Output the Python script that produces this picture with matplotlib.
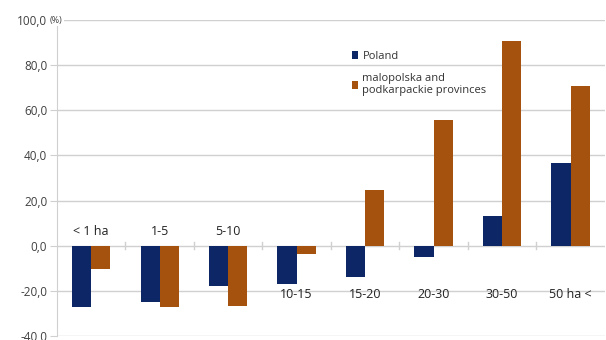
import numpy as np
import matplotlib
matplotlib.use("Agg")
from matplotlib import pyplot as plt

# farm size groups and change in number of farms (%)
categories = ["< 1 ha", "1-5", "5-10", "10-15", "15-20", "20-30", "30-50", "50 ha <"]
poland = [-27.0, -25.0, -17.7, -16.8, -13.7, -4.9, 13.3, 36.7]
malopolska = [-10.2, -27.4, -26.8, -3.5, 24.8, 55.8, 90.7, 70.8]
yticks = [-40, -20, 0, 20, 40, 60, 80, 100]

navy = "#0d2766"
brown = "#a5520f"
grid_col = "#d0d0d0"
text_col = "#404040"

plt.rcParams["font.family"] = ["Open Sans", "DejaVu Sans"]

fig = plt.figure(figsize=(6.06, 3.4), dpi=100)
ax = fig.add_axes([0.094, 0.012, 0.904, 0.929])

x = np.arange(len(categories))
w = 0.28
ax.bar(x - w / 2, poland, w, color=navy, label="Poland", zorder=3)
ax.bar(x + w / 2, malopolska, w, color=brown,
       label="malopolska and\npodkarpackie provinces", zorder=3)

ax.set_xlim(-0.5, len(categories) - 0.5)
ax.set_ylim(-40, 100)
ax.set_yticks(yticks)
ax.set_yticklabels([f"{v:.1f}".replace(".", ",") for v in yticks],
                   fontsize=8.5, color=text_col)
ax.set_xticks([])
ax.grid(axis="y", color=grid_col, linewidth=1, zorder=0)
ax.tick_params(axis="y", length=5, color=grid_col, pad=2)
for s in ["top", "right", "bottom"]:
    ax.spines[s].set_visible(False)
ax.spines["left"].set_color(grid_col)

# small tick marks on the zero line between groups
for b in x[:-1] + 0.5:
    ax.plot([b, b], [-1.5, 1.5], color=grid_col, lw=1, zorder=2)

# group labels, above zero for the first three, below for the rest
for i, c in enumerate(categories):
    if i < 3:
        ax.text(i, 3.5, c, ha="center", va="bottom", fontsize=9, color="#222222")
    else:
        ax.text(i, -21.5, c, ha="center", va="center", fontsize=9, color="#222222")

ax.text(-0.6, 100, "(%)", fontsize=6.5, color=text_col, ha="left", va="center",
        bbox=dict(facecolor="white", edgecolor="none", pad=1), zorder=5)

leg = ax.legend(loc="upper left", bbox_to_anchor=(0.52, 0.935), frameon=False,
                fontsize=8, handlelength=0.6, handleheight=0.7,
                handletextpad=0.35, labelspacing=1.0)
for t in leg.get_texts():
    t.set_color("#333333")

fig.savefig("out.png", dpi=100)
